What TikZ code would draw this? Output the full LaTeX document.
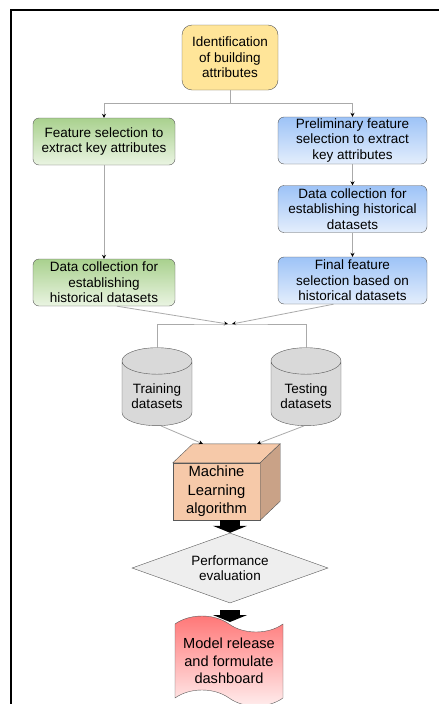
\documentclass[tikz,border=0pt]{standalone}
\usepackage{fontspec}
\setmainfont{Liberation Sans}
\usetikzlibrary{arrows.meta,shapes.geometric,shapes.symbols}
\definecolor{ybox}{HTML}{FFE599}
\definecolor{gtop}{HTML}{A9D18E}
\definecolor{gbot}{HTML}{EAF4E2}
\definecolor{btop}{HTML}{9DC3F7}
\definecolor{bbot}{HTML}{E4EEFC}
\definecolor{peach}{HTML}{F6C9A9}
\definecolor{peachside}{HTML}{C9A287}
\definecolor{cyl}{HTML}{D9D9D9}
\definecolor{dia}{HTML}{EEEEEE}
\definecolor{ttop}{HTML}{FF7474}
\definecolor{tbot}{HTML}{FFF0F0}
\definecolor{edge}{HTML}{595959}
\definecolor{wire}{HTML}{AAAAAA}
\newcommand{\lowtext}[1]{\raisebox{-3pt}[\height][\depth]{\begin{tabular}{@{}c@{}}#1\end{tabular}}}

\begin{document}
\begin{tikzpicture}[x=1pt,y=-1pt,
  every node/.style={font=\fontsize{13.5}{15.5}\selectfont,align=center,inner sep=1pt},
  box/.style={draw=edge,rounded corners=6pt,minimum height=47pt},
  gbox/.style={box,minimum width=142pt,top color=gtop,bottom color=gbot},
  bbox/.style={box,minimum width=149pt,top color=btop,bottom color=bbot},
  db/.style={cylinder,shape border rotate=90,aspect=0.5,draw=edge,fill=cyl,minimum width=70pt,minimum height=78pt},
  link/.style={draw=wire,line width=0.8pt},
  arr/.style={link,-{Stealth[length=4pt,width=4pt,black]}},
  block/.style={black,line width=20pt,-{Triangle[length=7pt,width=34pt]}}]
  \useasboundingbox (0,0) rectangle (439,704);
  \draw[line width=1.5pt] (11,704) -- (11,10) -- (439,10);

  \node[draw=edge,fill=ybox,rounded corners=10pt,minimum width=96pt,minimum height=65pt] (ident) at (230,57.5) {Identification\\of building\\attributes};
  \node[gbox] (fsel) at (104,141.5) {Feature selection to\\extract key attributes};
  \node[gbox] (gdata) at (104,282.5) {Data collection for\\establishing\\historical datasets};
  \node[bbox] (pfsel) at (352.5,140.5) {Preliminary feature\\selection to extract\\key attributes};
  \node[bbox] (bdata) at (352.5,209) {Data collection for\\establishing historical\\datasets};
  \node[bbox] (ffsel) at (352.5,280.5) {Final feature\\selection based on\\historical datasets};
  \coordinate (merge) at (230,324);
  \node[db] (train) at (157,395) {\lowtext{Training\\datasets}};
  \node[db] (test) at (306,395) {\lowtext{Testing\\datasets}};

  \node[draw=edge,fill=peach,minimum width=87pt,minimum height=57pt,font=\fontsize{14.8}{18.5}\selectfont] (ml) at (216.5,491.5) {Machine\\Learning\\algorithm};
  \draw[edge,fill=peach] (ml.north west) -- ([shift={(20pt,19pt)}]ml.north west) -- ([shift={(20pt,19pt)}]ml.north east) -- (ml.north east) -- cycle;
  \draw[edge,fill=peachside] (ml.north east) -- ([shift={(20pt,19pt)}]ml.north east) -- ([shift={(20pt,19pt)}]ml.south east) -- (ml.south east) -- cycle;
  \coordinate (mlin1) at ([shift={(30pt,19pt)}]ml.north west);
  \coordinate (mlin2) at ([shift={(-3pt,19pt)}]ml.north east);

  \node[diamond,draw=edge,fill=dia,aspect=2.8,inner sep=0pt,minimum width=196pt,minimum height=70pt] (perf) at (230,568) {Performance\\evaluation};
  \node[tape,draw=edge,top color=ttop,bottom color=tbot,tape bend top=out and in,tape bend bottom=out and in,tape bend height=16pt,minimum width=108pt,minimum height=90pt,font=\fontsize{14.6}{17.5}\selectfont] (tape) at (229,661) {Model release\\and formulate\\dashboard};

  \draw[arr] (ident.south) -- ++(0,13) -| (fsel.north);
  \draw[arr] (ident.south) -- ++(0,13) -| (pfsel.north);
  \draw[arr] (fsel) -- (gdata);
  \draw[arr] (pfsel) -- (bdata);
  \draw[arr] (bdata) -- (ffsel);
  \draw[arr] ([xshift=13pt]gdata.south) -- ([xshift=-2pt]merge);
  \draw[arr] ([xshift=-19pt]ffsel.south) -- ([xshift=2pt]merge);
  \draw[link] (train.north) |- (merge) -| (test.north);
  \draw[arr] ([xshift=4pt]train.south) -- (mlin1);
  \draw[arr] ([xshift=-2pt]test.south) -- (mlin2);
  \draw[block] (perf.north |- ml.south) -- (perf.north);
  \draw[block] ([yshift=-7pt]perf.south) -- (perf.south |- 0,622);
\end{tikzpicture}
\end{document}
